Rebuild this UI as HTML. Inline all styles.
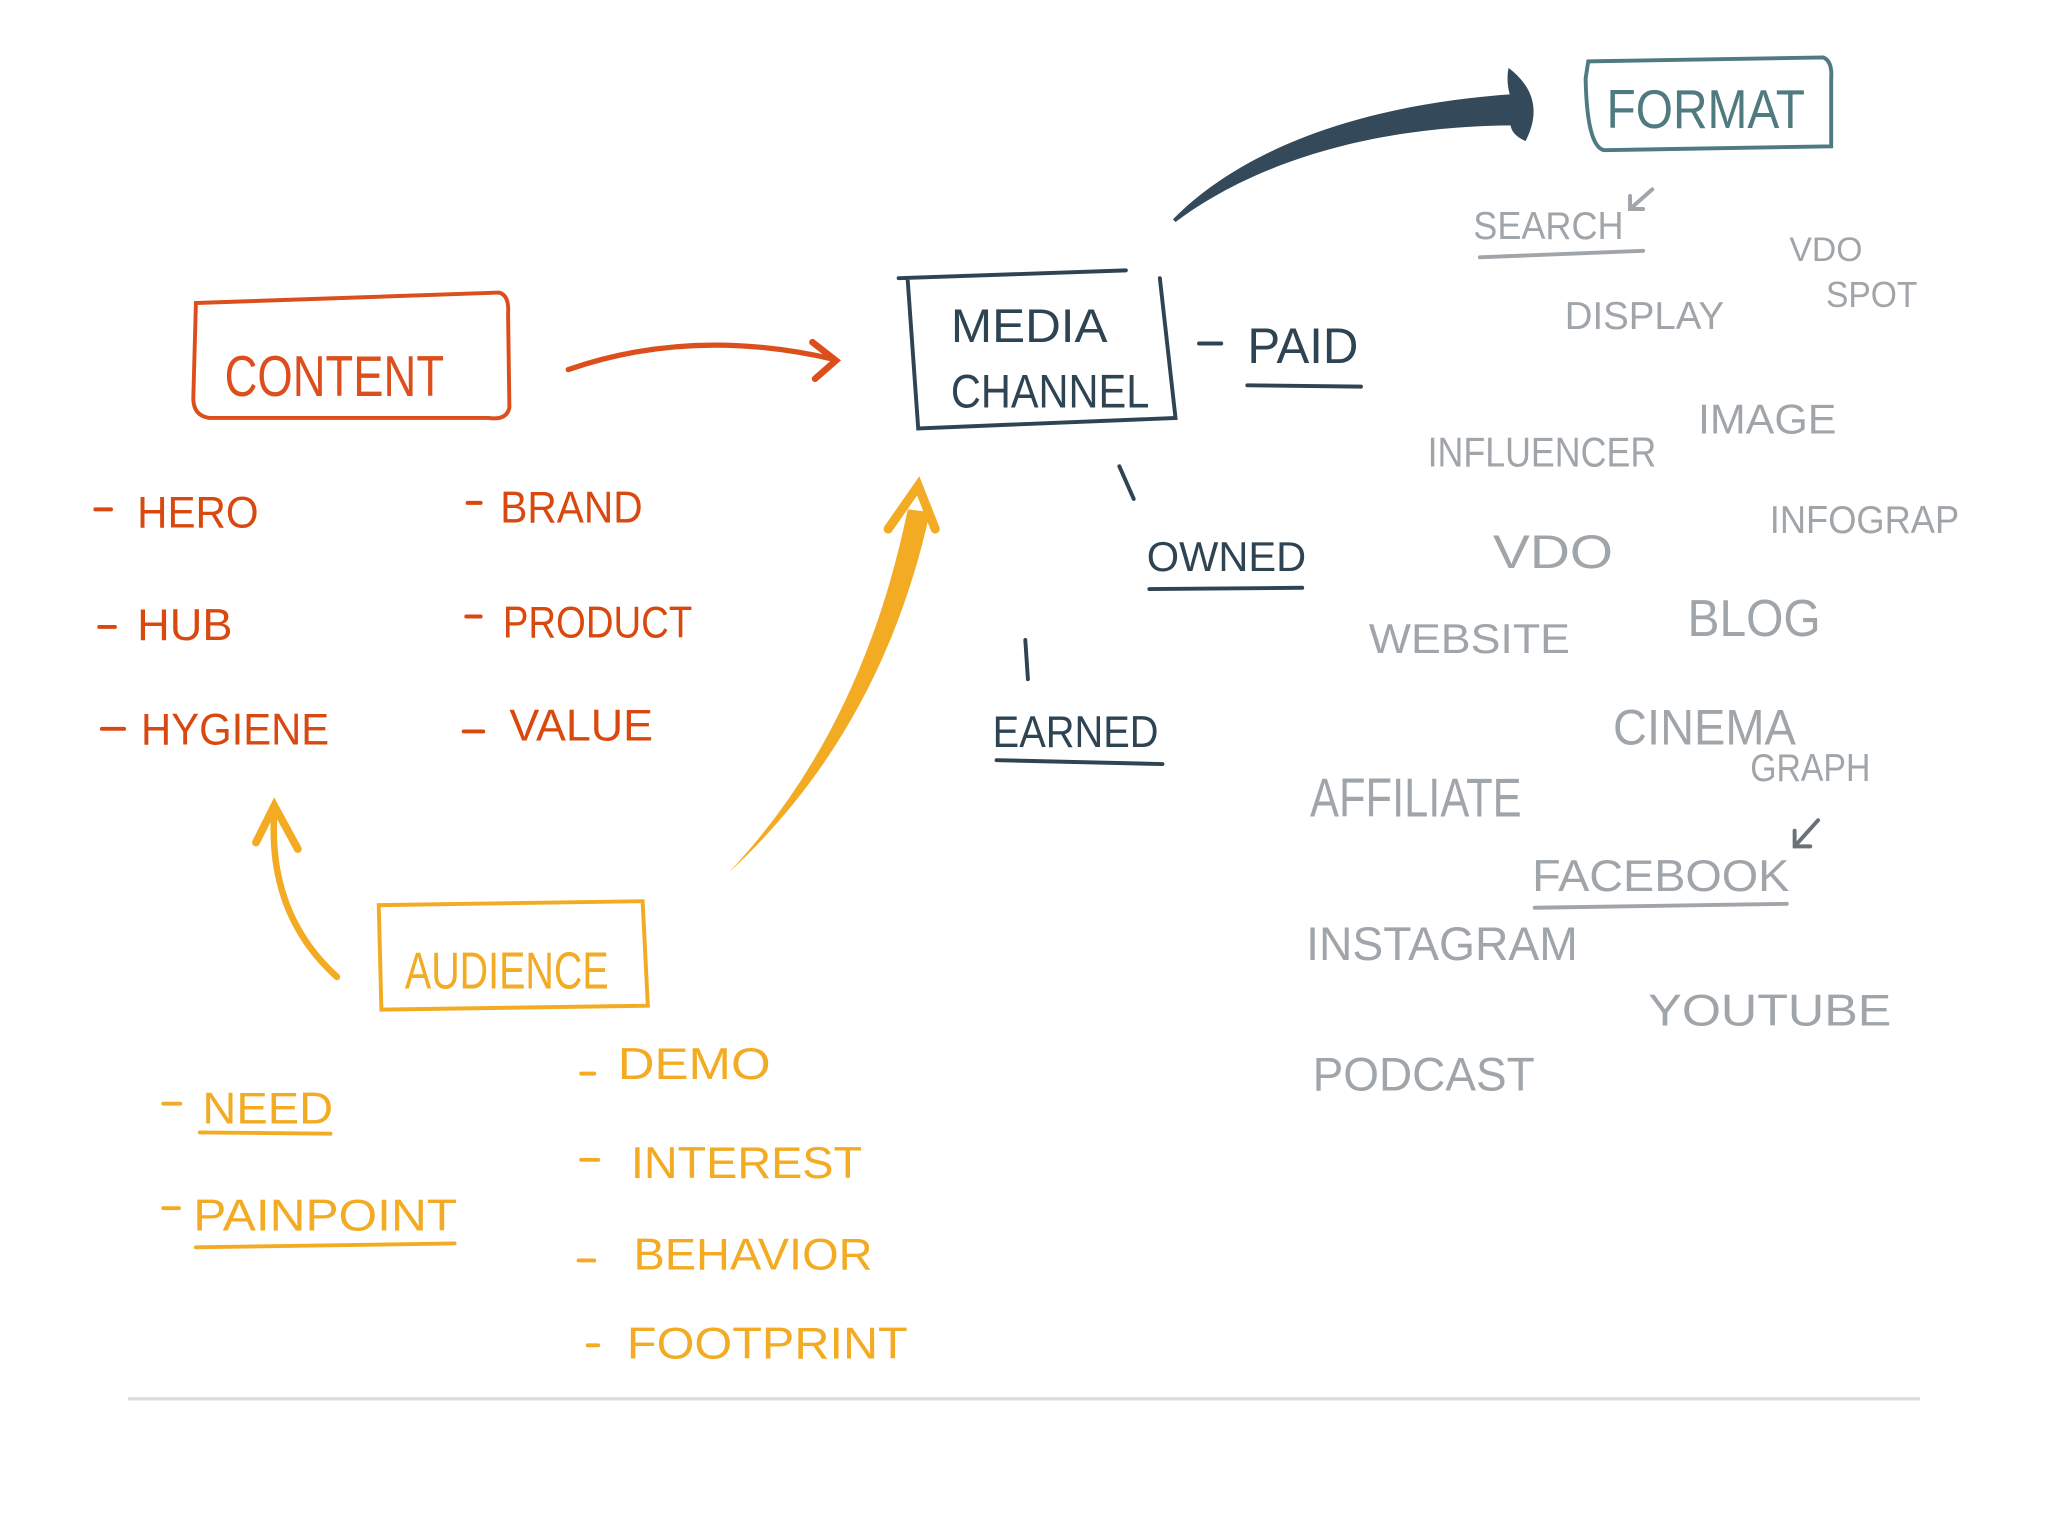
<!DOCTYPE html>
<html><head><meta charset="utf-8"><style>
html,body{margin:0;padding:0;background:#fff;}
svg{display:block;}
text{font-family:"Liberation Sans",sans-serif;}
</style></head><body>
<svg width="2048" height="1536" viewBox="0 0 1568 1176" preserveAspectRatio="none" xmlns="http://www.w3.org/2000/svg">
<rect width="1568" height="1176" fill="#fff"/>
<!-- CONTENT -->
<g fill="none" stroke="#dc4f1c" stroke-width="3" stroke-linecap="round">
<path d="M150,232 L382,224 Q390,226 389,240 L390,312 Q388,322 374,320 L160,320 Q148,318 148,305 Z"/>
<path d="M435,283 Q530,250 638,275" stroke-width="4"/>
<path d="M622,262 L640,276 L624,290" stroke-width="5"/>
</g>
<text x="172" y="303" font-size="44" fill="#dc4f1c" textLength="168" lengthAdjust="spacingAndGlyphs">CONTENT</text>
<g fill="#d9480f" font-size="34">
<text x="105" y="404" textLength="93" lengthAdjust="spacingAndGlyphs">HERO</text>
<text x="383" y="400" textLength="109" lengthAdjust="spacingAndGlyphs">BRAND</text>
<text x="105" y="490" textLength="73" lengthAdjust="spacingAndGlyphs">HUB</text>
<text x="385" y="488" textLength="145" lengthAdjust="spacingAndGlyphs">PRODUCT</text>
<text x="108" y="570" textLength="144" lengthAdjust="spacingAndGlyphs">HYGIENE</text>
<text x="390" y="567" textLength="110" lengthAdjust="spacingAndGlyphs">VALUE</text>
</g>
<g stroke="#d9480f" stroke-width="3" stroke-linecap="round">
<line x1="73" y1="390" x2="85" y2="390"/><line x1="358" y1="385" x2="368" y2="385"/>
<line x1="76" y1="480" x2="88" y2="480"/><line x1="357" y1="472" x2="368" y2="472"/>
<line x1="78" y1="558" x2="95" y2="558"/><line x1="355" y1="560" x2="370" y2="560"/>
</g>
<!-- MEDIA CHANNEL -->
<g fill="none" stroke="#2e4453" stroke-width="3" stroke-linecap="round">
<path d="M688,213 L862,207 M888,213 L900,320 L703,328 L695,215"/>
</g>
<text x="728" y="262" font-size="36" fill="#2e4453" textLength="120" lengthAdjust="spacingAndGlyphs">MEDIA</text>
<text x="728" y="312" font-size="36" fill="#2e4453" textLength="152" lengthAdjust="spacingAndGlyphs">CHANNEL</text>
<g stroke="#2e4453" stroke-width="3" stroke-linecap="round" fill="none">
<line x1="918" y1="263" x2="935" y2="263"/>
<line x1="955" y1="295" x2="1042" y2="296"/>
<line x1="857" y1="357" x2="868" y2="382"/>
<line x1="880" y1="451" x2="997" y2="450"/>
<line x1="785" y1="490" x2="787" y2="520"/>
<line x1="763" y1="582" x2="890" y2="585"/>
</g>
<text x="955" y="278" font-size="38" fill="#2e4453" textLength="85" lengthAdjust="spacingAndGlyphs">PAID</text>
<text x="878" y="437" font-size="32" fill="#2e4453" textLength="122" lengthAdjust="spacingAndGlyphs">OWNED</text>
<text x="760" y="572" font-size="34" fill="#2e4453" textLength="127" lengthAdjust="spacingAndGlyphs">EARNED</text>
<!-- dark arrow -->
<path d="M898,168 C950,115 1040,80 1160,72 L1162,96 C1050,96 960,125 900,170 Z" fill="#34495a"/>
<path d="M1155,52 Q1185,75 1168,108 Q1150,100 1160,84 Q1152,66 1155,52 Z" fill="#34495a"/>
<!-- FORMAT -->
<path d="M1216,47 L1396,44 Q1403,47 1402,60 L1402,112 L1228,115 Q1215,112 1214,60 Z" fill="none" stroke="#4f7b80" stroke-width="3"/>
<text x="1230" y="98" font-size="42" fill="#4f7b80" textLength="152" lengthAdjust="spacingAndGlyphs">FORMAT</text>
<!-- gray -->
<g fill="#a0a5aa">
<text x="1128" y="183" font-size="30" textLength="115" lengthAdjust="spacingAndGlyphs">SEARCH</text>
<text x="1370" y="200" font-size="26" textLength="56" lengthAdjust="spacingAndGlyphs">VDO</text>
<text x="1398" y="235" font-size="28" textLength="70" lengthAdjust="spacingAndGlyphs">SPOT</text>
<text x="1198" y="252" font-size="30" textLength="122" lengthAdjust="spacingAndGlyphs">DISPLAY</text>
<text x="1300" y="332" font-size="32" textLength="106" lengthAdjust="spacingAndGlyphs">IMAGE</text>
<text x="1093" y="357" font-size="32" textLength="175" lengthAdjust="spacingAndGlyphs">INFLUENCER</text>
<text x="1355" y="408" font-size="30" textLength="145" lengthAdjust="spacingAndGlyphs">INFOGRAP</text>
<text x="1143" y="435" font-size="36" textLength="92" lengthAdjust="spacingAndGlyphs">VDO</text>
<text x="1048" y="500" font-size="32" textLength="154" lengthAdjust="spacingAndGlyphs">WEBSITE</text>
<text x="1292" y="487" font-size="40" textLength="102" lengthAdjust="spacingAndGlyphs">BLOG</text>
<text x="1235" y="570" font-size="38" textLength="140" lengthAdjust="spacingAndGlyphs">CINEMA</text>
<text x="1340" y="598" font-size="30" textLength="92" lengthAdjust="spacingAndGlyphs">GRAPH</text>
<text x="1003" y="625" font-size="42" textLength="162" lengthAdjust="spacingAndGlyphs">AFFILIATE</text>
<text x="1173" y="682" font-size="34" textLength="197" lengthAdjust="spacingAndGlyphs">FACEBOOK</text>
<text x="1000" y="735" font-size="36" textLength="208" lengthAdjust="spacingAndGlyphs">INSTAGRAM</text>
<text x="1262" y="785" font-size="34" textLength="186" lengthAdjust="spacingAndGlyphs">YOUTUBE</text>
<text x="1005" y="835" font-size="36" textLength="170" lengthAdjust="spacingAndGlyphs">PODCAST</text>
</g>
<g stroke="#a0a5aa" stroke-width="3" fill="none" stroke-linecap="round">
<path d="M1133,197 L1258,192"/>
<path d="M1175,695 L1368,692"/>
<path d="M1265,145 L1248,160 M1248,150 L1248,160 L1258,160"/>
<path d="M1392,628 L1374,648 M1374,636 L1374,648 L1386,648" stroke="#6b7178"/>
</g>
<!-- AUDIENCE -->
<path d="M290,693 L492,690 L496,770 L292,773 Z" fill="none" stroke="#f2ab22" stroke-width="3"/>
<text x="310" y="757" font-size="40" fill="#f2ab22" textLength="156" lengthAdjust="spacingAndGlyphs">AUDIENCE</text>
<g fill="none" stroke="#f2ab22" stroke-linecap="round">
<path d="M258,748 Q205,700 210,622" stroke-width="5"/>
<path d="M196,645 L210,617 L228,650" stroke-width="6"/>
</g>
<path d="M558,668 Q660,560 695,390 L712,392 Q675,560 558,668 Z" fill="#f2ab22"/>
<path d="M680,405 L703,372 L716,405" fill="none" stroke="#f2ab22" stroke-width="7" stroke-linecap="round"/>
<g fill="#f2ab22" font-size="34">
<text x="155" y="860" textLength="100" lengthAdjust="spacingAndGlyphs">NEED</text>
<text x="148" y="942" textLength="202" lengthAdjust="spacingAndGlyphs">PAINPOINT</text>
<text x="473" y="826" textLength="117" lengthAdjust="spacingAndGlyphs">DEMO</text>
<text x="483" y="902" textLength="177" lengthAdjust="spacingAndGlyphs">INTEREST</text>
<text x="485" y="972" textLength="183" lengthAdjust="spacingAndGlyphs">BEHAVIOR</text>
<text x="480" y="1040" textLength="215" lengthAdjust="spacingAndGlyphs">FOOTPRINT</text>
</g>
<g stroke="#f2ab22" stroke-width="3" stroke-linecap="round">
<line x1="125" y1="845" x2="138" y2="845"/><line x1="153" y1="867" x2="253" y2="868"/>
<line x1="125" y1="925" x2="137" y2="925"/><line x1="150" y1="955" x2="348" y2="952"/>
<line x1="445" y1="822" x2="455" y2="822"/><line x1="445" y1="888" x2="458" y2="888"/>
<line x1="443" y1="965" x2="455" y2="965"/><line x1="450" y1="1030" x2="458" y2="1030"/>
</g>
<line x1="98" y1="1071" x2="1470" y2="1071" stroke="#dcdcdc" stroke-width="2.5"/>
</svg>
</body></html>
